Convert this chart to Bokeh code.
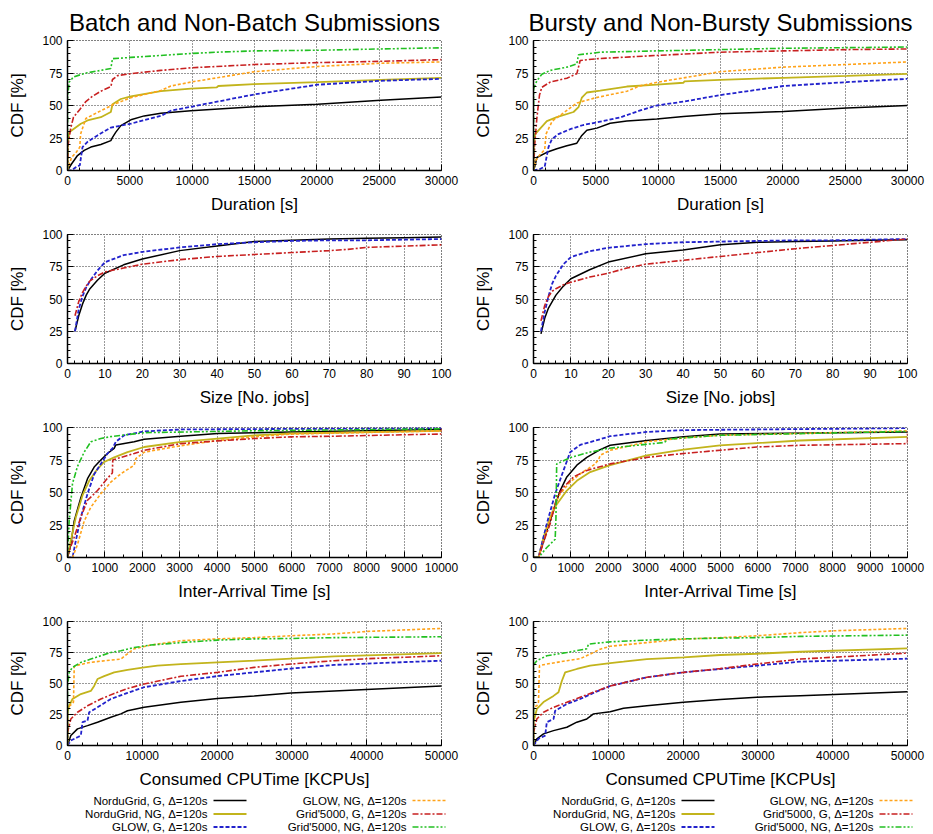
from bokeh.plotting import figure
from bokeh.layouts import column, row
from bokeh.models import Range1d, SingleIntervalTicker
from bokeh.embed import file_html
from bokeh.resources import INLINE
from bokeh.core.properties import value

FONT = "Liberation Sans"

# ---------------- texts ----------------
TITLES = ["Batch and Non-Batch Submissions", "Bursty and Non-Bursty Submissions"]
X_LABELS = ["Duration [s]", "Size [No. jobs]", "Inter-Arrival Time [s]", "Consumed CPUTime [KCPUs]"]
Y_LABEL = "CDF [%]"
X_MAX = [30000, 100, 10000, 50000]
X_TICK_STEP = [5000, 10, 1000, 10000]
Y_TICK_STEP = 25
SERIES_NAMES = ["NorduGrid, G, \u0394=120s", "NorduGrid, NG, \u0394=120s", "GLOW, G, \u0394=120s",
                "GLOW, NG, \u0394=120s", "Grid'5000, G, \u0394=120s", "Grid'5000, NG, \u0394=120s"]
SERIES_KEYS = ["ngG", "ngNG", "glG", "glNG", "g5G", "g5NG"]

# ---------------- data: Batch / Non-Batch, Duration ----------------
b_dur_ngG_x = [0, 321, 802, 1337, 1872, 2674, 3476, 3610, 3877, 4278, 5080, 6150, 7487, 9893, 14973, 20053, 25134, 30000]
b_dur_ngG_y = [0, 5, 11.5, 15.5, 18, 20, 23, 25.5, 29.5, 34.5, 39, 42, 44, 46, 49, 51, 54, 56.5]
b_dur_ngNG_x = [0, 20, 134, 1070, 1604, 2674, 3476, 3610, 4278, 5080, 7487, 9893, 11979, 12100, 14973, 20053, 25134, 30000]
b_dur_ngNG_y = [0, 20, 29.5, 36, 38.5, 41, 45, 51, 55, 57, 61, 63, 64, 65, 66.5, 68, 69.7, 71.3]
b_dur_glG_x = [0, 321, 668, 989, 1203, 1604, 2406, 3476, 5080, 7487, 8289, 9893, 14973, 20053, 25134, 30000]
b_dur_glG_y = [0, 0, 2.5, 4, 18, 22, 27, 33, 36, 42, 46, 49, 58.5, 66, 69, 70.5]
b_dur_glNG_x = [0, 321, 700, 989, 1050, 1471, 2674, 3743, 5080, 7487, 8289, 9893, 14973, 20053, 25134, 30000]
b_dur_glNG_y = [0, 10, 14, 18, 28, 40, 46, 51, 56, 61.5, 65, 68, 76, 80, 82.5, 83.5]
b_dur_g5G_x = [0, 50, 267, 481, 989, 1471, 2000, 2674, 3476, 3610, 4011, 5080, 7487, 9893, 14973, 20053, 25134, 30000]
b_dur_g5G_y = [0, 20, 33, 41, 47, 53, 57, 61, 64.5, 70, 73, 74.5, 77, 79, 81.5, 83, 84, 85.3]
b_dur_g5NG_x = [0, 10, 134, 481, 1471, 2674, 3476, 3610, 5080, 8289, 9893, 11979, 14973, 20053, 25134, 30000]
b_dur_g5NG_y = [0, 57, 68, 72, 75, 77, 78.5, 86, 87, 89, 90, 91, 92, 92.5, 93.5, 94.4]

# ---------------- data: Bursty / Non-Bursty, Duration ----------------
r_dur_ngG_x = [0, 134, 267, 1070, 1872, 2674, 3476, 3877, 4278, 5080, 6150, 7487, 9893, 12032, 14973, 20053, 25134, 30000]
r_dur_ngG_y = [0, 4, 10, 14, 16.7, 19, 21, 27, 31, 32.6, 36.4, 38, 39.7, 41.5, 43.6, 45.4, 48, 50]
r_dur_ngNG_x = [0, 30, 134, 1070, 1872, 3209, 3610, 3877, 4278, 5348, 7487, 9893, 12032, 12100, 14973, 20053, 25134, 30000]
r_dur_ngNG_y = [0, 20, 28, 38, 41, 45, 48.7, 56, 60, 61.5, 64.6, 66, 67.5, 68.5, 69.7, 71.3, 72.8, 74.4]
r_dur_glG_x = [0, 481, 900, 1000, 1203, 1471, 2000, 3000, 4000, 5080, 7000, 8500, 9893, 12032, 14973, 20053, 25134, 30000]
r_dur_glG_y = [0, 1, 3, 8, 18, 24, 28, 32, 35, 37, 41, 46, 50, 53, 58, 65, 68, 70.5]
r_dur_glNG_x = [0, 200, 500, 900, 1000, 1500, 2500, 3500, 5000, 7500, 8500, 10000, 15000, 20000, 25000, 30000]
r_dur_glNG_y = [0, 8, 12, 16, 28, 38, 45, 52, 56, 61, 65, 68, 76, 79.5, 81.5, 83.5]
r_dur_g5G_x = [0, 100, 267, 481, 668, 1337, 2674, 3476, 3743, 5080, 7000, 9893, 14973, 20053, 25134, 30000]
r_dur_g5G_y = [0, 20, 40, 58, 64, 68, 71, 74.5, 84.6, 86, 87, 88.5, 91, 92, 93, 93.5]
r_dur_g5NG_x = [0, 10, 267, 668, 1337, 2674, 3476, 3610, 5348, 9893, 15000, 20000, 25000, 30000]
r_dur_g5NG_y = [0, 63, 69, 74, 77, 79.5, 82, 89, 91, 92, 93, 94, 94.5, 95]

# ---------------- data: Size ----------------
size_x = [2, 3, 4, 5, 6, 8, 10, 15, 20, 30, 40, 50, 60, 70, 80, 90, 100]
b_size_ngG_y = [25, 37, 46, 53, 58, 64.5, 70, 76.5, 81, 87.5, 91, 94.5, 95.5, 96.5, 97, 97.5, 98]
b_size_glG_y = [25, 42, 52, 59, 64, 72, 78.5, 84, 86.5, 90, 92.5, 94, 95, 95.5, 95.5, 96, 96.5]
b_size_g5G_x = [2, 3, 4, 5, 6, 8, 10, 15, 20, 30, 40, 50, 60, 70, 75, 80, 90, 100]
b_size_g5G_y = [37, 48, 55, 60, 64, 68, 71, 74, 77, 80.5, 83, 84.5, 86, 87.5, 88.5, 90, 91, 92]
r_size_ngG_y = [23, 35, 43, 48, 53, 60, 65.7, 72.7, 78.6, 85, 88, 92, 94, 94.5, 95, 95.5, 96]
r_size_glG_y = [25, 40, 52, 62, 68, 77, 82.5, 87, 89.7, 92.5, 94, 94.5, 95, 95.5, 95.5, 96, 96.5]
r_size_g5G_x = [2, 3, 4, 5, 6, 8, 10, 15, 20, 25, 30, 40, 50, 60, 70, 80, 90, 100]
r_size_g5G_y = [33, 45, 52, 56, 58, 61, 63, 67, 70, 74, 77, 80, 83, 86, 89, 91.5, 94, 96.5]

# ---------------- data: Inter-Arrival Time ----------------
b_ia_ngG_x = [0, 89, 178, 356, 535, 713, 891, 1070, 1248, 1292, 1783, 2050, 3030, 4011, 4991, 5971, 10000]
b_ia_ngG_y = [0, 10, 28, 46, 60.6, 69.6, 75, 80, 84, 86.6, 89, 91, 93.3, 95.4, 96, 96.6, 98.5]
b_ia_ngNG_x = [0, 89, 223, 401, 579, 802, 980, 1248, 1604, 2050, 3030, 4011, 4991, 5971, 10000]
b_ia_ngNG_y = [0, 13, 31, 47.7, 59, 68, 73.5, 77, 81, 85, 89, 91.5, 94, 95.4, 97.4]
b_ia_glG_x = [0, 134, 223, 356, 535, 713, 891, 1070, 1203, 1292, 1515, 2050, 3030, 10000]
b_ia_glG_y = [0, 0, 13, 31, 49, 64, 72, 80, 84, 89, 94, 97, 98.5, 99.5]
b_ia_glNG_x = [0, 134, 267, 446, 624, 891, 1159, 1426, 1783, 1827, 2050, 3030, 4011, 4991, 5971, 10000]
b_ia_glNG_y = [0, 0, 10, 28, 38.7, 49, 58, 64.4, 71, 76, 81, 86, 90, 92.8, 95, 97.4]
b_ia_g5G_x = [0, 45, 178, 356, 535, 802, 1070, 1200, 1210, 1426, 1783, 2050, 3030, 4011, 4991, 5971, 7130, 10000, 10000]
b_ia_g5G_y = [0, 5, 15.5, 31, 44, 51.5, 61, 65, 75, 77, 80, 82.5, 87.6, 89.7, 91.5, 92.8, 93.3, 95, 99]
b_ia_g5NG_x = [0, 45, 134, 267, 445, 624, 891, 1159, 2050, 5000, 10000]
b_ia_g5NG_y = [0, 28, 57, 70, 81, 89, 91.5, 93, 96, 97.5, 99]

r_ia_ngG_x = [0, 134, 356, 535, 713, 891, 1159, 1426, 1783, 2050, 3030, 4011, 4991, 10000]
r_ia_ngG_y = [0, 0, 20.6, 36, 51.5, 62, 71, 77, 83, 86.3, 90, 92.8, 95, 96.6]
r_ia_ngNG_x = [0, 134, 267, 446, 624, 891, 1159, 1515, 2050, 3030, 4011, 4991, 5971, 7130, 10000]
r_ia_ngNG_y = [0, 0, 15.5, 31, 41, 51.5, 59, 65.7, 71, 78.6, 83, 86.3, 88, 90, 92.8]
r_ia_glG_x = [0, 134, 356, 579, 802, 980, 1248, 1783, 2050, 3030, 4011, 10000]
r_ia_glG_y = [0, 0, 26, 49, 67, 81, 86.6, 91, 93.3, 96.6, 98, 99.5]
r_ia_glNG_x = [0, 134, 356, 535, 713, 980, 1248, 1604, 1738, 1783, 2050, 3030, 4011, 4991, 10000]
r_ia_glNG_y = [0, 0, 20.6, 38.7, 49, 58, 64.4, 71, 75, 78.6, 82.5, 89, 92, 94, 97.4]
r_ia_g5G_x = [0, 134, 312, 446, 535, 624, 802, 1070, 1426, 2050, 3030, 4011, 4991, 5971, 7130, 10000, 10000]
r_ia_g5G_y = [0, 0, 15.5, 26, 36, 46.4, 54, 62, 67, 72, 77, 80, 82.5, 85, 86.3, 87.6, 97.4]
r_ia_g5NG_x = [0, 134, 356, 579, 600, 620, 1000, 1500, 2000, 3000, 3500, 3600, 4000, 5000, 10000]
r_ia_g5NG_y = [0, 0, 7.7, 14, 30, 72, 77, 81, 84, 87, 88.5, 91, 92, 94, 97]

# ---------------- data: Consumed CPU time ----------------
b_cpu_ngG_x = [0, 446, 1337, 2674, 4011, 5793, 7130, 8021, 10250, 15152, 20053, 24955, 29857, 35650, 50000]
b_cpu_ngG_y = [0, 8, 13.4, 16, 18.8, 22.8, 25.5, 28, 30.8, 34.8, 38, 40, 42.4, 44, 48]
b_cpu_ngNG_x = [0, 0, 223, 668, 1783, 3119, 3565, 4011, 4902, 6239, 8021, 10250, 12032, 15152, 20053, 24955, 29857, 35650, 50000]
b_cpu_ngNG_y = [0, 26.8, 32, 37.5, 41.5, 44, 48, 53.6, 56, 59, 61, 63, 64.4, 65.7, 67, 68.4, 70, 71.8, 74.5]
b_cpu_glG_x = [0, 446, 1337, 1783, 2005, 2674, 2897, 4011, 5793, 8021, 10250, 15152, 20053, 24955, 29857, 35650, 50000]
b_cpu_glG_y = [0, 4, 6.7, 8, 18.8, 20, 26.8, 30.8, 37.5, 42.4, 47, 52, 56, 59, 62, 65, 68.4]
b_cpu_glNG_x = [0, 0, 500, 800, 900, 1500, 3000, 4456, 7130, 8244, 8913, 11141, 15152, 20053, 24955, 29857, 35650, 40107, 50000]
b_cpu_glNG_y = [0, 30.8, 33, 35, 63.8, 65, 67, 68, 69.7, 75, 78, 81, 84.5, 86, 87, 88.5, 90, 92, 94.4]
b_cpu_g5G_x = [0, 0, 446, 1337, 2674, 4456, 6239, 8021, 10250, 15152, 20053, 24955, 29857, 35650, 40107, 50000]
b_cpu_g5G_y = [0, 10.7, 21.4, 26.8, 32, 37.5, 42, 46, 49.6, 55.8, 59, 63, 65.7, 68.4, 70, 72.4]
b_cpu_g5NG_x = [0, 0, 223, 668, 1783, 3119, 4456, 5793, 7130, 8913, 11141, 15152, 20053, 24955, 29857, 35650, 50000]
b_cpu_g5NG_y = [0, 48, 59, 63, 67, 69.7, 72.4, 75, 76.4, 79, 81, 83, 85, 86, 86.3, 87, 87.7]

r_cpu_ngG_x = [0, 446, 1337, 2674, 4456, 5793, 7130, 8021, 10250, 12032, 15152, 20053, 24955, 29857, 35650, 50000]
r_cpu_ngG_y = [0, 5.4, 9.4, 12, 14.7, 18.8, 21.4, 25.5, 27.3, 30, 32, 34.8, 37, 38.9, 40.2, 43.4]
r_cpu_ngNG_x = [0, 0, 446, 1337, 2674, 3342, 3788, 4234, 5793, 7576, 10250, 12032, 15152, 20053, 24955, 29857, 35650, 50000]
r_cpu_ngNG_y = [0, 18.8, 29.5, 35, 40, 43, 52, 59, 61.7, 64.4, 66.5, 67.6, 69.7, 71, 73, 74, 75.6, 78.3]
r_cpu_glG_x = [0, 668, 1560, 1783, 2674, 2897, 4456, 6239, 8021, 10250, 15152, 20053, 24955, 29857, 35650, 50000]
r_cpu_glG_y = [0, 5.4, 8, 18.8, 21.4, 28, 33.5, 37.5, 42.4, 48, 55, 59, 61.7, 64.4, 67.6, 70]
r_cpu_glNG_x = [0, 0, 446, 668, 802, 1783, 4456, 6239, 7576, 8913, 10250, 15152, 20053, 24955, 29857, 35650, 40107, 50000]
r_cpu_glNG_y = [0, 30.8, 32, 35, 64.4, 65.7, 68.4, 70, 73.7, 77.7, 80, 83, 85.8, 87, 88.5, 91, 92.5, 94.4]
r_cpu_g5G_x = [0, 0, 446, 1337, 2674, 4456, 6239, 8021, 10250, 15152, 20053, 24955, 29857, 35650, 50000]
r_cpu_g5G_y = [0, 10.7, 21.4, 26.8, 30.8, 34.8, 38.9, 43, 48, 55, 59, 62, 65.7, 69.7, 74.5]
r_cpu_g5NG_x = [0, 0, 446, 1783, 4456, 7130, 7353, 10250, 15152, 20053, 24955, 29857, 35650, 50000]
r_cpu_g5NG_y = [0, 65, 68.4, 72.4, 75, 78, 81.8, 83.6, 85, 86, 86.6, 87, 88, 89]

# panel -> {series: (x, y)}
PANELS = [
    [  # left column
        {"ngG": (b_dur_ngG_x, b_dur_ngG_y), "ngNG": (b_dur_ngNG_x, b_dur_ngNG_y),
         "glG": (b_dur_glG_x, b_dur_glG_y), "glNG": (b_dur_glNG_x, b_dur_glNG_y),
         "g5G": (b_dur_g5G_x, b_dur_g5G_y), "g5NG": (b_dur_g5NG_x, b_dur_g5NG_y)},
        {"ngG": (size_x, b_size_ngG_y), "glG": (size_x, b_size_glG_y), "g5G": (b_size_g5G_x, b_size_g5G_y)},
        {"ngG": (b_ia_ngG_x, b_ia_ngG_y), "ngNG": (b_ia_ngNG_x, b_ia_ngNG_y),
         "glG": (b_ia_glG_x, b_ia_glG_y), "glNG": (b_ia_glNG_x, b_ia_glNG_y),
         "g5G": (b_ia_g5G_x, b_ia_g5G_y), "g5NG": (b_ia_g5NG_x, b_ia_g5NG_y)},
        {"ngG": (b_cpu_ngG_x, b_cpu_ngG_y), "ngNG": (b_cpu_ngNG_x, b_cpu_ngNG_y),
         "glG": (b_cpu_glG_x, b_cpu_glG_y), "glNG": (b_cpu_glNG_x, b_cpu_glNG_y),
         "g5G": (b_cpu_g5G_x, b_cpu_g5G_y), "g5NG": (b_cpu_g5NG_x, b_cpu_g5NG_y)},
    ],
    [  # right column
        {"ngG": (r_dur_ngG_x, r_dur_ngG_y), "ngNG": (r_dur_ngNG_x, r_dur_ngNG_y),
         "glG": (r_dur_glG_x, r_dur_glG_y), "glNG": (r_dur_glNG_x, r_dur_glNG_y),
         "g5G": (r_dur_g5G_x, r_dur_g5G_y), "g5NG": (r_dur_g5NG_x, r_dur_g5NG_y)},
        {"ngG": (size_x, r_size_ngG_y), "glG": (size_x, r_size_glG_y), "g5G": (r_size_g5G_x, r_size_g5G_y)},
        {"ngG": (r_ia_ngG_x, r_ia_ngG_y), "ngNG": (r_ia_ngNG_x, r_ia_ngNG_y),
         "glG": (r_ia_glG_x, r_ia_glG_y), "glNG": (r_ia_glNG_x, r_ia_glNG_y),
         "g5G": (r_ia_g5G_x, r_ia_g5G_y), "g5NG": (r_ia_g5NG_x, r_ia_g5NG_y)},
        {"ngG": (r_cpu_ngG_x, r_cpu_ngG_y), "ngNG": (r_cpu_ngNG_x, r_cpu_ngNG_y),
         "glG": (r_cpu_glG_x, r_cpu_glG_y), "glNG": (r_cpu_glNG_x, r_cpu_glNG_y),
         "g5G": (r_cpu_g5G_x, r_cpu_g5G_y), "g5NG": (r_cpu_g5NG_x, r_cpu_g5NG_y)},
    ],
]

# ---------------- styles ----------------
STYLE = {
    "ngG": dict(color="#000000", dash="solid", width=1.5),
    "ngNG": dict(color="#c2b41c", dash="solid", width=1.8),
    "glG": dict(color="#2222cc", dash="4 2", width=1.8),
    "glNG": dict(color="#ffa31a", dash="3 2", width=1.6),
    "g5G": dict(color="#c82020", dash="6 2 2 2", width=1.6),
    "g5NG": dict(color="#22c022", dash="6 2 2 2 2 2", width=1.6),
}

FRAME_W = 374
COL_BORDERS = [(67, 25), (67, 18)]          # (left, right)
ROW_GEOM = [(40, 130, 48), (16, 129, 47), (17, 130, 46), (18, 124, 45)]  # (top, frame h, bottom)
LEGEND_H = 42


def make_panel(c, r):
    left, right = COL_BORDERS[c]
    top, fh, bottom = ROW_GEOM[r]
    p = figure(frame_width=FRAME_W, frame_height=fh,
               min_border_left=left, min_border_right=right,
               min_border_top=top, min_border_bottom=bottom,
               x_range=Range1d(0, X_MAX[r]), y_range=Range1d(0, 100),
               toolbar_location=None, output_backend="svg")
    if r == 0:
        p.title.text = TITLES[c]
        p.title.align = "center"
        p.title.text_font = FONT
        p.title.text_font_size = "24px"
        p.title.text_font_style = "normal"
        p.title.text_color = "black"
        p.title.standoff = 9
    p.background_fill_color = "white"
    p.border_fill_color = "white"
    p.outline_line_color = "black"
    p.outline_line_dash = "1 2"
    p.outline_line_width = 1

    p.xaxis.ticker = SingleIntervalTicker(interval=X_TICK_STEP[r], num_minor_ticks=5 if r != 2 else 2)
    p.yaxis.ticker = SingleIntervalTicker(interval=Y_TICK_STEP, num_minor_ticks=5)
    p.xgrid.ticker = p.xaxis.ticker
    p.ygrid.ticker = p.yaxis.ticker
    for g in (p.xgrid, p.ygrid):
        g.grid_line_color = "black"
        g.grid_line_dash = "1 2"
        g.grid_line_width = 1
        g.grid_line_alpha = 0.8
    for ax in (p.xaxis, p.yaxis):
        ax.axis_line_color = "black"
        ax.axis_line_width = 1.5
        ax.major_tick_in = 6
        ax.major_tick_out = 0
        ax.minor_tick_in = 3
        ax.minor_tick_out = 0
        ax.major_tick_line_color = "black"
        ax.minor_tick_line_color = "black"
        ax.major_label_text_font = FONT
        ax.major_label_text_font_size = "12px"
        ax.major_label_text_color = "black"
        ax.axis_label_text_font = FONT
        ax.axis_label_text_font_size = "17px"
        ax.axis_label_text_font_style = "normal"
        ax.axis_label_text_color = "black"
    p.xaxis.axis_label = X_LABELS[r]
    p.yaxis.axis_label = Y_LABEL
    p.xaxis.major_label_standoff = 5
    p.yaxis.major_label_standoff = 5
    p.xaxis.axis_label_standoff = 7
    p.yaxis.axis_label_standoff = 12

    curves = PANELS[c][r]
    for key in SERIES_KEYS:
        if key not in curves:
            continue
        xs, ys = curves[key]
        st = STYLE[key]
        p.line(xs, ys, line_color=st["color"], line_dash=st["dash"], line_width=st["width"])
    return p


# legend layout (pixel positions inside legend strip)
LEG_TEXT_END = [(207, 406), (209, 407)]
LEG_SAMPLE_LEN = 33
LEG_ROWS = [9, 22.5, 35.5]


def make_legend(c):
    left, right = COL_BORDERS[c]
    w = left + FRAME_W + right
    p = figure(width=w, height=LEGEND_H, x_range=Range1d(0, w), y_range=Range1d(LEGEND_H, 0),
               toolbar_location=None, output_backend="svg",
               x_axis_location=None, y_axis_location=None, min_border=0)
    p.grid.visible = False
    p.outline_line_color = None
    p.background_fill_color = "white"
    p.border_fill_color = "white"
    for i, key in enumerate(SERIES_KEYS):
        colidx = i // 3
        yy = LEG_ROWS[i % 3]
        xe = LEG_TEXT_END[c][colidx]
        p.text(x=[xe], y=[yy], text=[SERIES_NAMES[i]], text_align="right", text_baseline="middle",
               text_font=value(FONT), text_font_size="11.5px", text_color="black")
        st = STYLE[key]
        p.segment(x0=[xe + 6], y0=[yy], x1=[xe + 6 + LEG_SAMPLE_LEN], y1=[yy],
                  line_color=st["color"], line_dash=st["dash"], line_width=st["width"])
    return p


rows = []
for r in range(4):
    rows.append(row(make_panel(0, r), make_panel(1, r), spacing=0))
rows.append(row(make_legend(0), make_legend(1), spacing=0))
layout = column(*rows, spacing=0)

open("out.html", "w").write(file_html(layout, INLINE))
